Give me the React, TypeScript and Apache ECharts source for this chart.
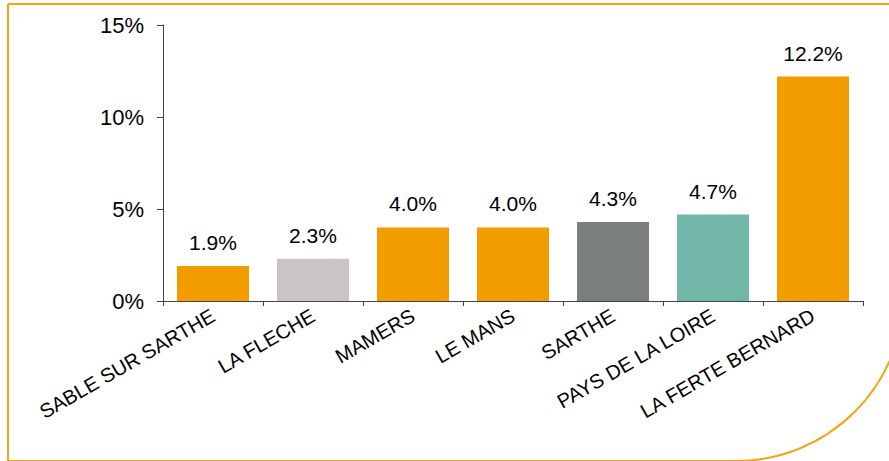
import React, { useEffect, useRef } from "react";
import * as echarts from "echarts";

const categories = [
  "SABLE SUR SARTHE",
  "LA FLECHE",
  "MAMERS",
  "LE MANS",
  "SARTHE",
  "PAYS DE LA LOIRE",
  "LA FERTE BERNARD",
];
const values = [1.9, 2.3, 4.0, 4.0, 4.3, 4.7, 12.2];
const barColors = ["#F39C00", "#CBC4C4", "#F39C00", "#F39C00", "#7B807D", "#72B7A8", "#F39C00"];
const yTicks = [0, 5, 10, 15];

export default function App() {
  const ref = useRef<HTMLDivElement>(null);
  useEffect(() => {
    if (!ref.current) return;
    const chart = echarts.init(ref.current, null, { renderer: "svg" });
    chart.setOption({
      animation: false,
      backgroundColor: "#ffffff",
      textStyle: { fontFamily: "Liberation Sans, Arial, sans-serif" },
      graphic: [
        {
          type: "rect",
          shape: { x: 8, y: 4, width: 896, height: 457, r: [0, 0, 168, 0] },
          style: { fill: "none", stroke: "#F5A31A", lineWidth: 2 },
          silent: true,
          z: -1,
        },
      ],
      grid: { left: 163, right: 26, top: 25, bottom: 160, containLabel: false },
      xAxis: {
        type: "category",
        data: categories,
        axisLine: { lineStyle: { color: "#444", width: 1 } },
        axisTick: { show: true, length: 5, alignWithLabel: false, lineStyle: { color: "#444" } },
        axisLabel: {
          rotate: 30,
          interval: 0,
          margin: 13,
          fontSize: 20,
          color: "#000",
          fontFamily: "Liberation Sans, Arial, sans-serif",
        },
      },
      yAxis: {
        type: "value",
        min: yTicks[0],
        max: yTicks[yTicks.length - 1],
        interval: 5,
        splitLine: { show: false },
        axisLine: { show: true, lineStyle: { color: "#444", width: 1 } },
        axisTick: { show: true, length: 6, lineStyle: { color: "#444" } },
        axisLabel: {
          formatter: (v: number) => v + "%",
          fontSize: 22,
          margin: 19,
          color: "#000",
          fontFamily: "Liberation Sans, Arial, sans-serif",
        },
      },
      series: [
        {
          type: "bar",
          data: values.map((v, i) => ({ value: v, itemStyle: { color: barColors[i] } })),
          barCategoryGap: "28%",
          label: {
            show: true,
            position: "top",
            distance: 13,
            formatter: (p: any) => p.value.toFixed(1) + "%",
            fontSize: 21,
            color: "#000",
            fontFamily: "Liberation Sans, Arial, sans-serif",
          },
        },
      ],
    });
    return () => chart.dispose();
  }, []);
  return <div ref={ref} style={{ width: 889, height: 461, position: "absolute", left: 0, top: 0 }} />;
}
